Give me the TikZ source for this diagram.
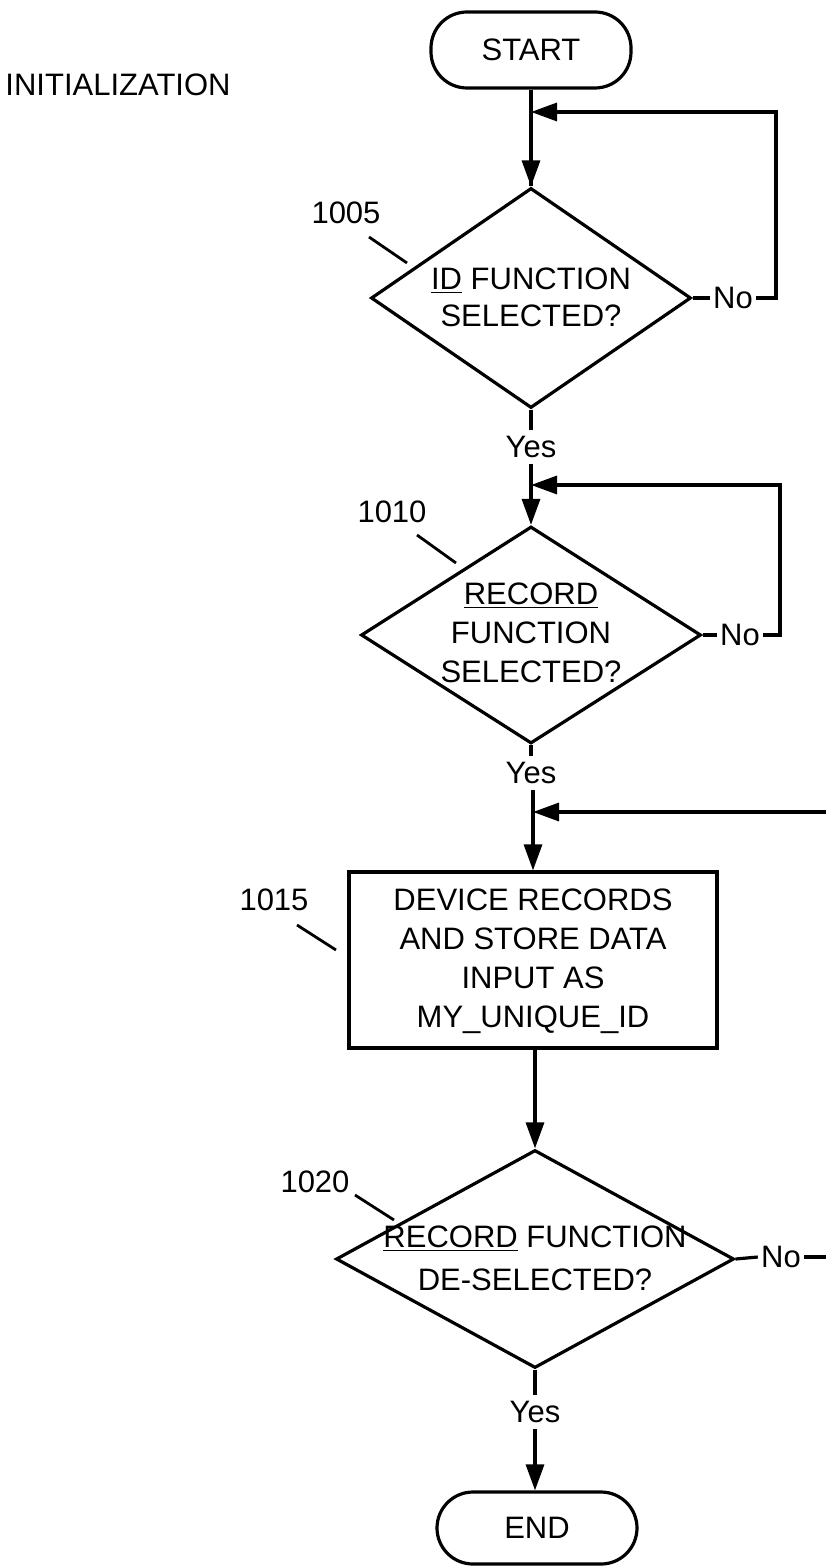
\documentclass[tikz,border=0pt]{standalone}
\usepackage{fontspec}
\setmainfont{Liberation Sans}
\usetikzlibrary{shapes.geometric,arrows.meta}
\begin{document}
\begin{tikzpicture}[x=0.5pt,y=-0.5pt,
  every node/.style={font=\fontsize{15.5}{19.5}\selectfont},
  ln/.style={line width=1.6pt},
  flow/.style={ln,-{Triangle[length=13pt,width=9pt]}},
  term/.style={draw,ln,rectangle,rounded corners=18pt,minimum width=100pt,minimum height=38pt,inner sep=0pt},
  dec/.style={draw,ln,diamond,inner sep=0pt},
  proc/.style={draw,ln,rectangle,inner sep=0pt},
  txt/.style={align=center,inner sep=0pt},
  lbl/.style={inner sep=1.5pt},
  yes/.style={inner sep=3pt},
  ref/.style={line width=1.4pt}
]
\useasboundingbox (0,0) rectangle (826,1566);

% title
\node[inner sep=0pt] (init) at (118,85) {INITIALIZATION};

% start
\node[term] (start) at (531,50) {START};

% 1005
\node[dec,minimum width=160pt,minimum height=110pt] (d1005) at (531,298) {};
\node[txt] (t1005) at (531,297) {\underline{ID} FUNCTION\\[-1pt]SELECTED?};
\node[inner sep=0pt] (l1005) at (346,213) {1005};
\coordinate (a1005) at (369,237);
\coordinate (b1005) at (407,263);
\draw[ref] (a1005) -- (b1005);
\node[lbl] (no1) at (733,298) {No};
\coordinate (r1) at (776,112);
\coordinate (m1) at (531,112);
\draw[ln] (start.south) -- (d1005.north);
\draw[ln] (d1005.east) -- (no1.west);
\draw[flow] (no1.east) -| (r1) -- (m1);
\draw[flow] (m1) -- (d1005.north);

\node[yes] (yes1) at (531,447) {Yes};
\draw[ln] (d1005.south) -- (yes1.north);

% 1010
\node[dec,minimum width=170pt,minimum height=108.5pt] (d1010) at (531,635) {};
\node[txt] (t1010) at (531,633) {\underline{RECORD}\\FUNCTION\\SELECTED?};
\node[inner sep=0pt] (l1010) at (392,512) {1010};
\coordinate (a1010) at (417,535);
\coordinate (b1010) at (456,563);
\draw[ref] (a1010) -- (b1010);
\node[lbl] (no2) at (740,635) {No};
\coordinate (r2) at (780,485);
\coordinate (m2) at (531,485);
\draw[ln] (yes1.south) -- (m2);
\draw[flow] (m2) -- (d1010.north);
\draw[ln] (d1010.east) -- (no2.west);
\draw[flow] (no2.east) -| (r2) -- (m2);

\node[yes] (yes2) at (531,773) {Yes};
\draw[ln] (d1010.south) -- (yes2.north);

% 1015
\node[proc,minimum width=184pt,minimum height=88pt] (b1015) at (533,960) {};
\node[txt] (t1015) at (533,961) {DEVICE RECORDS\\AND STORE DATA\\INPUT AS\\MY\_UNIQUE\_ID};
\node[inner sep=0pt] (l1015) at (274,900) {1015};
\coordinate (a1015) at (297,925);
\coordinate (b1015l) at (336,950);
\draw[ref] (a1015) -- (b1015l);
\coordinate (e2) at (826,812);
\coordinate (m3) at (533,812);
\draw[ln] (yes2.south -| m3) -- (m3);
\draw[flow] (m3) -- (b1015.north);
\draw[flow] (e2) -- (m3);

% 1020
\node[dec,minimum width=199pt,minimum height=109pt] (d1020) at (535,1259) {};
\node[txt] (t1020) at (535,1258) {\underline{RECORD} FUNCTION\\[2pt]DE-SELECTED?};
\node[inner sep=0pt] (l1020) at (315,1182) {1020};
\coordinate (a1020) at (355,1195);
\coordinate (b1020) at (394,1220);
\draw[ref] (a1020) -- (b1020);
\draw[flow] (b1015.south -| d1020.north) -- (d1020.north);
\node[lbl] (no3) at (781,1257) {No};
\coordinate (e3) at (826,1257);
\draw[ln] (d1020.east) -- (no3.west);
\draw[ln] (no3.east) -- (e3);

\node[yes] (yes3) at (535,1412) {Yes};
\draw[ln] (d1020.south) -- (yes3.north);

% end
\node[term,minimum height=36pt] (end) at (537,1528) {END};
\draw[flow] (yes3.south) -- (yes3.south |- end.north);
\end{tikzpicture}
\end{document}
